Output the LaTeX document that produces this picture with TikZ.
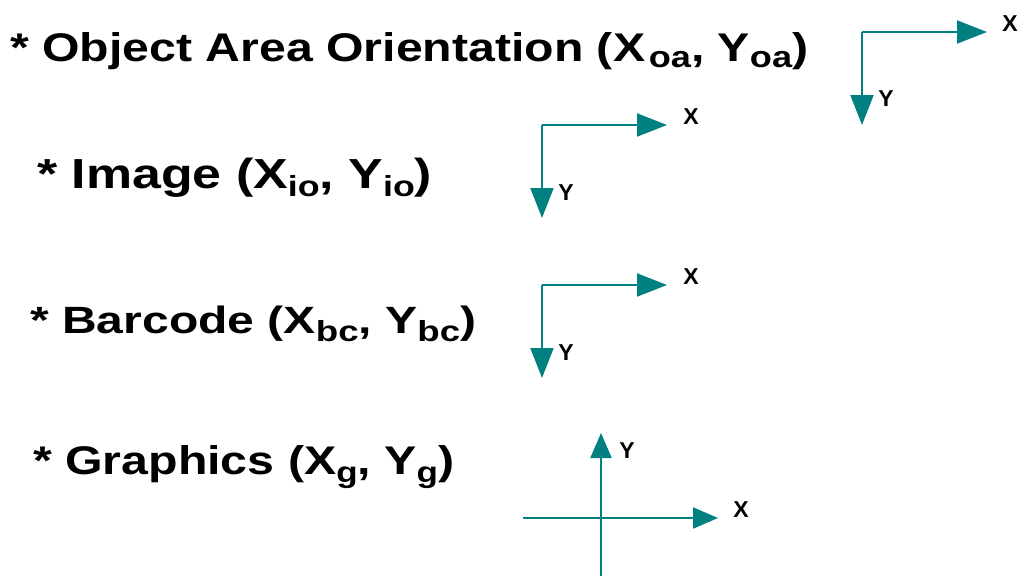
\documentclass[tikz,border=0pt]{standalone}
\usepackage{fontspec}
\setmainfont{Liberation Sans}
\usepackage{graphicx}
\usetikzlibrary{arrows.meta}
\definecolor{axteal}{RGB}{0,128,128}
\newcommand\subA[1]{\raisebox{-6pt}{\fontsize{30}{32}\selectfont\bfseries #1}}
\newcommand\subB[1]{\raisebox{-8pt}{\fontsize{29}{31}\selectfont\bfseries #1}}
\begin{document}
\begin{tikzpicture}[x=1pt,y=-1pt,
  txt/.style={anchor=base west,inner sep=0pt,font=\fontsize{40}{48}\selectfont\bfseries},
  lab/.style={inner sep=0pt,font=\fontsize{23}{25}\selectfont\bfseries},
  axis/.style={draw=axteal,line width=2pt,-{Triangle[length=30pt,width=23pt]}},
  axisg/.style={draw=axteal,line width=2pt,-{Triangle[length=25pt,width=21pt]}}]
\useasboundingbox (0,0) rectangle (1018,576);

% texts
\node[txt] (t1) at (10,61) {\resizebox{798pt}{\height}{* Object Area Orientation (X\hspace{3pt}\subA{oa}, Y\subA{oa})}};
\node[txt,font=\fontsize{42}{48}\selectfont\bfseries] (t2) at (37,188) {\resizebox{395pt}{\height}{* Image (X\subB{io}, Y\subB{io})}};
\node[txt,font=\fontsize{38}{46}\selectfont\bfseries] (t3) at (30,333) {\resizebox{446pt}{\height}{* Barcode (X\subB{bc}, Y\subB{bc})}};
\node[txt] (t4) at (33,474) {\resizebox{421pt}{\height}{* Graphics (X\subB{g}, Y\subB{g})}};

% axis 1
\coordinate (o1) at (862,32);
\coordinate (x1) at (987,32);
\coordinate (y1) at (862,125);
\draw[axis] (o1) -- (x1);
\draw[axis] (o1) -- (y1);
\node[lab] (lx1) at (1010,24) {X};
\node[lab] (ly1) at (886,99) {Y};

% axis 2
\coordinate (o2) at (542,125);
\coordinate (x2) at (667,125);
\coordinate (y2) at (542,218);
\draw[axis] (o2) -- (x2);
\draw[axis] (o2) -- (y2);
\node[lab] (lx2) at (691,117) {X};
\node[lab] (ly2) at (566,193) {Y};

% axis 3
\coordinate (o3) at (542,285);
\coordinate (x3) at (667,285);
\coordinate (y3) at (542,378);
\draw[axis] (o3) -- (x3);
\draw[axis] (o3) -- (y3);
\node[lab] (lx3) at (691,277) {X};
\node[lab] (ly3) at (566,353) {Y};

% axis 4
\coordinate (xl4) at (523,518);
\coordinate (x4) at (718,518);
\coordinate (yb4) at (601,576);
\coordinate (y4) at (601,433);
\draw[axisg] (xl4) -- (x4);
\draw[axisg] (yb4) -- (y4);
\node[lab] (lx4) at (741,510) {X};
\node[lab] (ly4) at (627,451) {Y};
\end{tikzpicture}
\end{document}
